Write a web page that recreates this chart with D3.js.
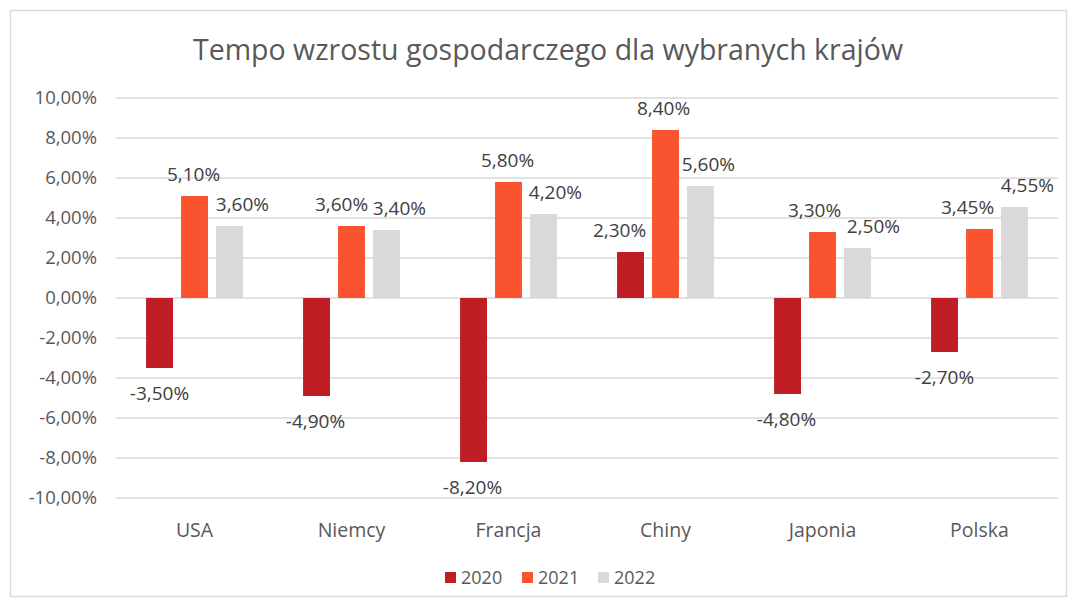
<!DOCTYPE html>
<html lang="pl">
<head>
<meta charset="utf-8">
<title>Tempo wzrostu</title>
<script src="https://d3js.org/d3.v7.min.js"></script>
<style>
  body{margin:0;background:#fff;font-family:"Open Sans",sans-serif;}
  text{fill:#595959;}
</style>
</head>
<body>
<div id="chart"></div>
<script>
// dane
var countries = ["USA","Niemcy","Francja","Chiny","Japonia","Polska"]
var years = ["2020","2021","2022"]
var v2020 = [-3.5,-4.9,-8.2,2.3,-4.8,-2.7]
var v2021 = [5.1,3.6,5.8,8.4,3.3,3.45]
var v2022 = [3.6,3.4,4.2,5.6,2.5,4.55]
var yTicks = [-10,-8,-6,-4,-2,0,2,4,6,8,10]
var colors = ["#be1e24","#f95330","#d9d9d9"]

// przesuniecia etykiet (Excel rozsuwa nachodzace etykiety)
var nudgeX = [
  [0,-1,-1,-11,-1,0],
  [-1,-10,-1,-2,-8,-12],
  [13,13,12,8,16,13]
]

var W = 1077, H = 607
var series = [v2020,v2021,v2022]
var table = countries.map(function(c,i){
  return {country:c, vals:years.map(function(y,j){ return {year:y, j:j, i:i, v:series[j][i]} })}
})

var loc = d3.formatLocale({decimal:",",thousands:" ",grouping:[3],currency:["","zł"],minus:"-"})
var fmt = function(v){ return loc.format(".2f")(v) + "%" }

var svg = d3.select("#chart").append("svg").attr("width",W).attr("height",H)

svg.append("rect")
  .attr("x",10.5).attr("y",10.5).attr("width",1056).attr("height",586)
  .attr("fill","#fff").attr("stroke","#d9d9d9").attr("stroke-width",1.5)

var x0 = d3.scaleBand().domain(countries).range([116,1058])
var x1 = d3.scaleBand().domain(years).range([0,x0.bandwidth()]).paddingInner(0.23).paddingOuter(0.86)
var y = d3.scaleLinear().domain([-10,10]).range([498,98])

svg.append("text")
  .attr("x",548).attr("y",60)
  .attr("text-anchor","middle")
  .style("font-size","28.5px")
  .text("Tempo wzrostu gospodarczego dla wybranych krajów")

// siatka
svg.append("g").selectAll("line")
  .data(yTicks).enter().append("line")
  .attr("x1",116).attr("x2",1058)
  .attr("y1",function(d){ return y(d) }).attr("y2",function(d){ return y(d) })
  .attr("stroke","#d9d9d9").attr("stroke-width",1.5)

svg.append("g").selectAll("text")
  .data(yTicks).enter().append("text")
  .attr("x",97).attr("y",function(d){ return y(d) + 6 })
  .attr("text-anchor","end")
  .style("font-size","18.5px")
  .text(function(d){ return fmt(d) })

var groups = svg.append("g").selectAll("g")
  .data(table).enter().append("g")
  .attr("transform",function(d){ return "translate(" + x0(d.country) + ",0)" })

groups.selectAll("rect")
  .data(function(d){ return d.vals }).enter().append("rect")
  .attr("x",function(d){ return x1(d.year) })
  .attr("width",x1.bandwidth())
  .attr("y",function(d){ return y(Math.max(0,d.v)) })
  .attr("height",function(d){ return Math.abs(y(d.v) - y(0)) })
  .attr("fill",function(d){ return colors[d.j] })

groups.selectAll("text.lbl")
  .data(function(d){ return d.vals }).enter().append("text")
  .attr("class","lbl")
  .attr("x",function(d){ return x1(d.year) + x1.bandwidth()/2 + nudgeX[d.j][d.i] })
  .attr("y",function(d){ return d.v < 0 ? y(d.v) + 32 : y(d.v) - 15 })
  .attr("text-anchor","middle")
  .style("font-size","19px")
  .style("fill","#404040")
  .text(function(d){ return fmt(d.v) })

svg.append("g").selectAll("text")
  .data(countries).enter().append("text")
  .attr("x",function(d){ return x0(d) + x0.bandwidth()/2 })
  .attr("y",537)
  .attr("text-anchor","middle")
  .style("font-size","19.5px")
  .text(function(d){ return d })

// legenda
var legX = [445,522,598]
var leg = svg.append("g").selectAll("g")
  .data(years).enter().append("g")
  .attr("transform",function(d,i){ return "translate(" + legX[i] + ",572)" })
leg.append("rect").attr("width",11).attr("height",11)
  .attr("fill",function(d,i){ return colors[i] })
leg.append("text").attr("x",16).attr("y",11.5)
  .style("font-size","18px")
  .text(function(d){ return d })
</script>
</body>
</html>
